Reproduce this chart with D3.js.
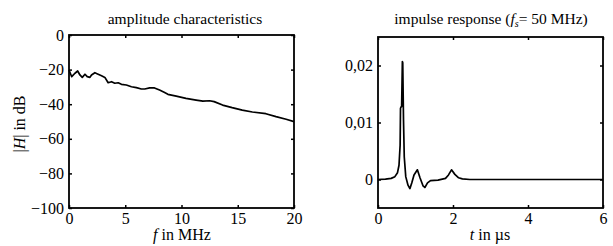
<!DOCTYPE html>
<html>
<head>
<meta charset="utf-8">
<script src="https://cdn.jsdelivr.net/npm/d3@7"></script>
<style>
body { margin: 0; background: #fff; }
text { font-family: "Liberation Serif", "DejaVu Serif", serif; fill: #000; }
</style>
</head>
<body>
<div id="chart"></div>
<script>
// amplitude characteristics, f in MHz / |H| in dB
var ampF  = [0, 0.24, 0.53, 0.77, 0.97, 1.18, 1.42, 1.62, 1.86, 2.0, 2.3, 2.54, 2.89, 3.19, 3.48, 3.78, 4.07, 4.37, 4.66, 5.1, 5.55, 5.99, 6.43, 6.73, 7.17, 7.6, 8.05, 8.5, 8.79, 9.53, 10.4, 11.3, 11.9, 12.5, 12.9, 13.65, 14.5, 15.4, 16.3, 17.5, 18.4, 19.3, 20]
var ampDb = [-20.2, -24.1, -22.1, -20.8, -23.1, -24.5, -22.7, -24.1, -24.5, -23.1, -21.8, -22.5, -23.5, -24.5, -27.6, -27.0, -27.9, -27.6, -28.5, -28.9, -29.9, -30.4, -31.2, -31.2, -30.6, -30.6, -31.8, -33.3, -34.3, -35.3, -36.6, -37.6, -38.2, -38.0, -38.5, -40.5, -42.0, -43.4, -44.5, -45.5, -47.2, -48.7, -50.1]

// impulse response, t in us
var impT = [0, 0.2, 0.35, 0.45, 0.52, 0.56, 0.59, 0.6, 0.62, 0.63, 0.65, 0.66, 0.68, 0.7, 0.74, 0.8, 0.85, 0.9, 0.96, 1.05, 1.12, 1.2, 1.25, 1.32, 1.4, 1.6, 1.8, 1.88, 1.96, 2.05, 2.15, 2.25, 2.45, 3, 4, 5, 6]
var impV = [0, 0.00005, 0.0002, 0.0005, 0.0012, 0.0025, 0.006, 0.0125, 0.0128, 0.0128, 0.0207, 0.0205, 0.0105, 0.004, 0.0005, -0.001, -0.0016, -0.0006, 0.0008, 0.0017, 0.0003, -0.0011, -0.0014, -0.0006, -0.0002, -0.0001, 0.0002, 0.0008, 0.0017, 0.0009, 0.0003, 0.0001, 0, 0, 0, 0, 0]

var ampXTicks = [0, 5, 10, 15, 20]
var ampYTicks = [0, -20, -40, -60, -80, -100]
var impXTicks = [0, 2, 4, 6]
var impYTicks = [0, 0.01, 0.02]

var svg = d3.select('#chart').append('svg')
  .attr('width', 613)
  .attr('height', 246)

var numFmt = d => d3.format('')(d).replace('-', '\u2212')

function drawPanel(opt) {
  var x = d3.scaleLinear().domain(opt.xDomain).range([opt.left, opt.right])
  var y = d3.scaleLinear().domain(opt.yDomain).range([opt.bottom, opt.top])
  var g = svg.append('g')

  var ax = (a, tr, ticks, fmt) => g.append('g')
    .attr('transform', tr)
    .call(a.tickValues(ticks).tickSize(-3).tickPadding(fmt ? 5 : 0).tickFormat(fmt || '').tickSizeOuter(0))
    .call(s => s.select('.domain').remove())
    .call(s => s.selectAll('.tick line').attr('stroke', '#000').attr('stroke-width', 1.5))
    .call(s => s.selectAll('text').style('font-size', '16px').style('font-family', '"Liberation Serif", serif'))

  ax(d3.axisBottom(x), `translate(0,${opt.bottom})`, opt.xTicks, numFmt)
  ax(d3.axisTop(x), `translate(0,${opt.top})`, opt.xTicks, null)
  ax(d3.axisLeft(y), `translate(${opt.left},0)`, opt.yTicks, opt.yFmt || numFmt)
  ax(d3.axisRight(y), `translate(${opt.right},0)`, opt.yTicks, null)

  g.append('rect')
    .attr('x', opt.left).attr('y', opt.top)
    .attr('width', opt.right - opt.left).attr('height', opt.bottom - opt.top)
    .attr('fill', 'none').attr('stroke', '#000').attr('stroke-width', 1.8)

  var line = d3.line()
    .x((d, i) => x(opt.xs[i]))
    .y(d => y(d))

  g.append('path')
    .attr('d', line(opt.ys))
    .attr('fill', 'none')
    .attr('stroke', '#000')
    .attr('stroke-width', 1.7)
    .attr('stroke-linejoin', 'round')
  return g
}

drawPanel({
  left: 69, right: 294, top: 35, bottom: 208,
  xDomain: [0, 20], yDomain: [-100, 0],
  xTicks: ampXTicks, yTicks: ampYTicks,
  xs: ampF, ys: ampDb
})

drawPanel({
  left: 378, right: 603, top: 37, bottom: 208,
  xDomain: [0, 6], yDomain: [-0.005, 0.025],
  xTicks: impXTicks, yTicks: impYTicks,
  xs: impT, ys: impV,
  yFmt: d => d === 0 ? '0' : d3.format('.2f')(d).replace('.', ',')
})

// titles and labels
svg.append('text')
  .attr('x', 185).attr('y', 24)
  .attr('text-anchor', 'middle').style('font-size', '15.5px')
  .text('amplitude characteristics')

var t2 = svg.append('text')
  .attr('x', 491).attr('y', 24)
  .attr('text-anchor', 'middle').style('font-size', '15.5px')
t2.append('tspan').text('impulse response (')
t2.append('tspan').style('font-style', 'italic').text('f')
t2.append('tspan').attr('dy', 3).style('font-size', '10px').style('font-style', 'italic').text('s')
t2.append('tspan').attr('dy', -3).text('= 50 MHz)')

var xl1 = svg.append('text')
  .attr('x', 182).attr('y', 240)
  .attr('text-anchor', 'middle').style('font-size', '16px')
xl1.append('tspan').style('font-style', 'italic').text('f')
xl1.append('tspan').text(' in MHz')

var xl2 = svg.append('text')
  .attr('x', 490).attr('y', 240)
  .attr('text-anchor', 'middle').style('font-size', '16px')
xl2.append('tspan').style('font-style', 'italic').text('t')
xl2.append('tspan').text(' in \u00b5s')

var yl = svg.append('text')
  .attr('transform', 'translate(25,124) rotate(-90)')
  .attr('text-anchor', 'middle').style('font-size', '16px')
yl.append('tspan').text('|')
yl.append('tspan').style('font-style', 'italic').text('H')
yl.append('tspan').text('| in dB')
</script>
</body>
</html>
